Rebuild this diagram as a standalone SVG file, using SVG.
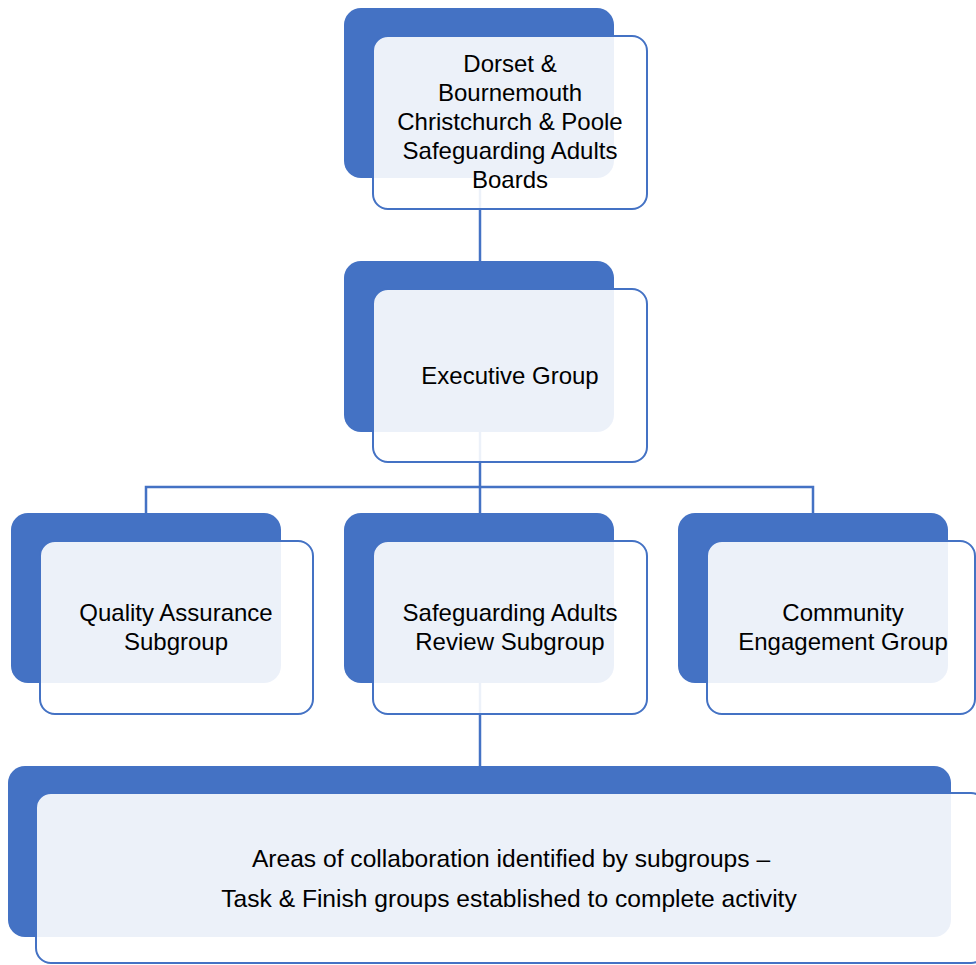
<svg xmlns="http://www.w3.org/2000/svg" width="976" height="965" viewBox="0 0 976 965">
  <style>
    .back { fill: #4472C4; }
    .front { fill: #FFFFFF; fill-opacity: 0.9; stroke: #4472C4; stroke-width: 2; }
    .conn { fill: none; stroke: #4472C4; stroke-width: 2.5; }
    .label { font-family: "Liberation Sans", Arial, sans-serif; font-size: 24px; fill: #000000; text-anchor: middle; }
    .wide { font-size: 24.6px; }
  </style>
  <rect width="976" height="965" fill="#FFFFFF"/>

  <!-- connectors sit underneath the boxes -->
  <g id="connectors">
    <line class="conn" x1="480" y1="178" x2="480" y2="262"/>
    <line class="conn" x1="480" y1="430" x2="480" y2="487"/>
    <polyline class="conn" points="146,514 146,487 813,487 813,514"/>
    <line class="conn" x1="480" y1="487" x2="480" y2="514"/>
    <line class="conn" x1="480" y1="682" x2="480" y2="767"/>
  </g>

  <g id="boards">
    <rect class="back" x="344" y="8" width="270" height="170" rx="17"/>
    <rect class="front" x="373" y="36" width="274" height="173" rx="15"/>
    <text class="label" x="510" y="72">Dorset &amp;</text>
    <text class="label" x="510" y="101">Bournemouth</text>
    <text class="label" x="510" y="130">Christchurch &amp; Poole</text>
    <text class="label" x="510" y="159">Safeguarding Adults</text>
    <text class="label" x="510" y="188">Boards</text>
  </g>

  <g id="executive">
    <rect class="back" x="344" y="261" width="270" height="171" rx="17"/>
    <rect class="front" x="373" y="289" width="274" height="173" rx="15"/>
    <text class="label" x="510" y="384">Executive Group</text>
  </g>

  <g id="quality-assurance">
    <rect class="back" x="11" y="513" width="270" height="170" rx="17"/>
    <rect class="front" x="40" y="541" width="273" height="173" rx="15"/>
    <text class="label" x="176" y="621">Quality Assurance</text>
    <text class="label" x="176" y="650">Subgroup</text>
  </g>

  <g id="sar-subgroup">
    <rect class="back" x="344" y="513" width="270" height="170" rx="17"/>
    <rect class="front" x="373" y="541" width="274" height="173" rx="15"/>
    <text class="label" x="510" y="621">Safeguarding Adults</text>
    <text class="label" x="510" y="650">Review Subgroup</text>
  </g>

  <g id="community-engagement">
    <rect class="back" x="678" y="513" width="270" height="170" rx="17"/>
    <rect class="front" x="707" y="541" width="268" height="173" rx="15"/>
    <text class="label" x="843" y="621">Community</text>
    <text class="label" x="843" y="650">Engagement Group</text>
  </g>

  <g id="task-finish">
    <rect class="back" x="8" y="766" width="943" height="171" rx="17"/>
    <rect class="front" x="36" y="793" width="950" height="170" rx="15"/>
    <text class="label wide" x="511" y="867">Areas of collaboration identified by subgroups –</text>
    <text class="label wide" x="509" y="907">Task &amp; Finish groups established to complete activity</text>
  </g>
</svg>
